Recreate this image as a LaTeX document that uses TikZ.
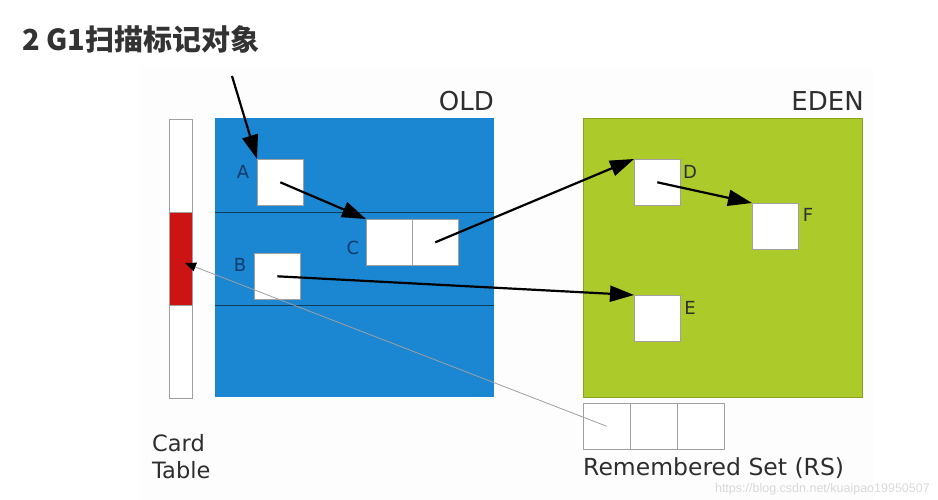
\documentclass[tikz,border=0pt]{standalone}
\usepackage{fontspec}
\setmainfont{DejaVu Sans}
\newfontfamily\cjkfont{Noto Sans CJK SC}
\newfontfamily\wmfont{Liberation Sans}
\usetikzlibrary{arrows.meta}
\definecolor{oldblue}{HTML}{1B87D2}
\definecolor{edengreen}{HTML}{ADCA2B}
\definecolor{cardred}{HTML}{CC1414}
\definecolor{bgwhite}{HTML}{FDFDFD}
\definecolor{titlegray}{HTML}{333333}
\definecolor{lblnavy}{HTML}{123A6B}
\definecolor{lbldark}{HTML}{2E2E2E}
\definecolor{boxgray}{HTML}{A0A0A0}
\begin{document}
\begin{tikzpicture}[x=1pt,y=-1pt,
  region/.style={inner sep=0pt, anchor=north west, minimum width=279pt, minimum height=279pt},
  obj/.style={draw=boxgray, fill=white, line width=0.6pt, inner sep=0pt, anchor=north west, minimum width=46pt, minimum height=46pt},
  cell/.style={draw=boxgray, fill=white, line width=0.6pt, inner sep=0pt, anchor=north west, minimum width=47pt, minimum height=46pt},
  lbl/.style={font=\fontsize{18}{18}\selectfont, inner sep=0pt},
  hdr/.style={font=\fontsize{26}{26}\selectfont, text=lbldark, inner sep=0pt, anchor=base east},
  caption/.style={font=\fontsize{22.5}{27}\selectfont, text=lbldark, inner sep=0pt},
  ptr/.style={line width=2.2pt, draw=black, -{Triangle[length=24pt,width=16pt]}},
  rsptr/.style={line width=0.8pt, draw=gray!75, -{Triangle[length=11pt,width=9pt,color=black]}}]
\useasboundingbox (0,0) rectangle (938,500);
\fill[bgwhite] (140,67) rectangle (873,500);

% title
\node[font=\cjkfont\bfseries\fontsize{29}{29}\selectfont, text=titlegray, inner sep=0pt, anchor=base west] (title) at (22,51) {2 G1扫描标记对象};

% card table
\node[draw=boxgray, fill=white, line width=0.6pt, inner sep=0pt, anchor=north west, minimum width=23pt, minimum height=279pt] (card) at (169,119) {};
\node[draw=boxgray, fill=cardred, line width=0.6pt, inner sep=0pt, anchor=north west, minimum width=23pt, minimum height=93pt] (cardred) at (169,212) {};
\coordinate (cardhit) at (185,263);
\node[caption, anchor=north west, align=left] (cardlbl) at (152,434) {Card\\Table};

% OLD region
\node[region, fill=oldblue] (old) at (215,118) {};
\draw[line width=0.8pt, draw=black!55!oldblue] (215,212) -- (494,212);
\draw[line width=0.8pt, draw=black!55!oldblue] (215,305) -- (494,305);
\node[hdr] (oldlbl) at (494,111) {OLD};

% EDEN region
\node[region, fill=edengreen, draw=edengreen!80!black, line width=0.5pt] (eden) at (583,118) {};
\node[hdr] (edenlbl) at (864,111) {EDEN};

% objects in OLD
\node[obj] (A) at (257,159) {};
\node[obj] (B) at (254,253) {};
\node[obj] (C1) at (366,219) {};
\node[obj] (C2) at (412,219) {};
\node[lbl, text=lblnavy] (Albl) at (243,172) {A};
\node[lbl, text=lblnavy] (Blbl) at (240,265) {B};
\node[lbl, text=lblnavy] (Clbl) at (353,248) {C};

% objects in EDEN
\node[obj] (D) at (634,159) {};
\node[obj] (E) at (634,295) {};
\node[obj] (F) at (752,203) {};
\node[lbl, text=lbldark] (Dlbl) at (690,172) {D};
\node[lbl, text=lbldark] (Elbl) at (690,308) {E};
\node[lbl, text=lbldark] (Flbl) at (808,215) {F};

% remembered set
\node[cell] (RS1) at (583,403) {};
\node[cell] (RS2) at (630,403) {};
\node[cell] (RS3) at (677,403) {};
\node[caption, font=\fontsize{23.5}{27}\selectfont, anchor=base west] (rslbl) at (583,475) {Remembered Set (RS)};

% connectors
\coordinate (root) at (232,76);
\draw[ptr] (root) -- (A.north west);
\draw[ptr] (A.center) -- (C1.north west);
\draw[ptr] (C2.center) -- (D.north west);
\draw[ptr] (B.center) -- (E.north west);
\draw[ptr] (D.center) -- (F.north west);
\draw[rsptr] (RS1.center) -- (cardhit);

% watermark
\node[font=\wmfont\fontsize{12.5}{12.5}\selectfont, text=gray!30, inner sep=0pt, anchor=east] (wm) at (930,489) {https://blog.csdn.net/kuaipao19950507};
\end{tikzpicture}
\end{document}
